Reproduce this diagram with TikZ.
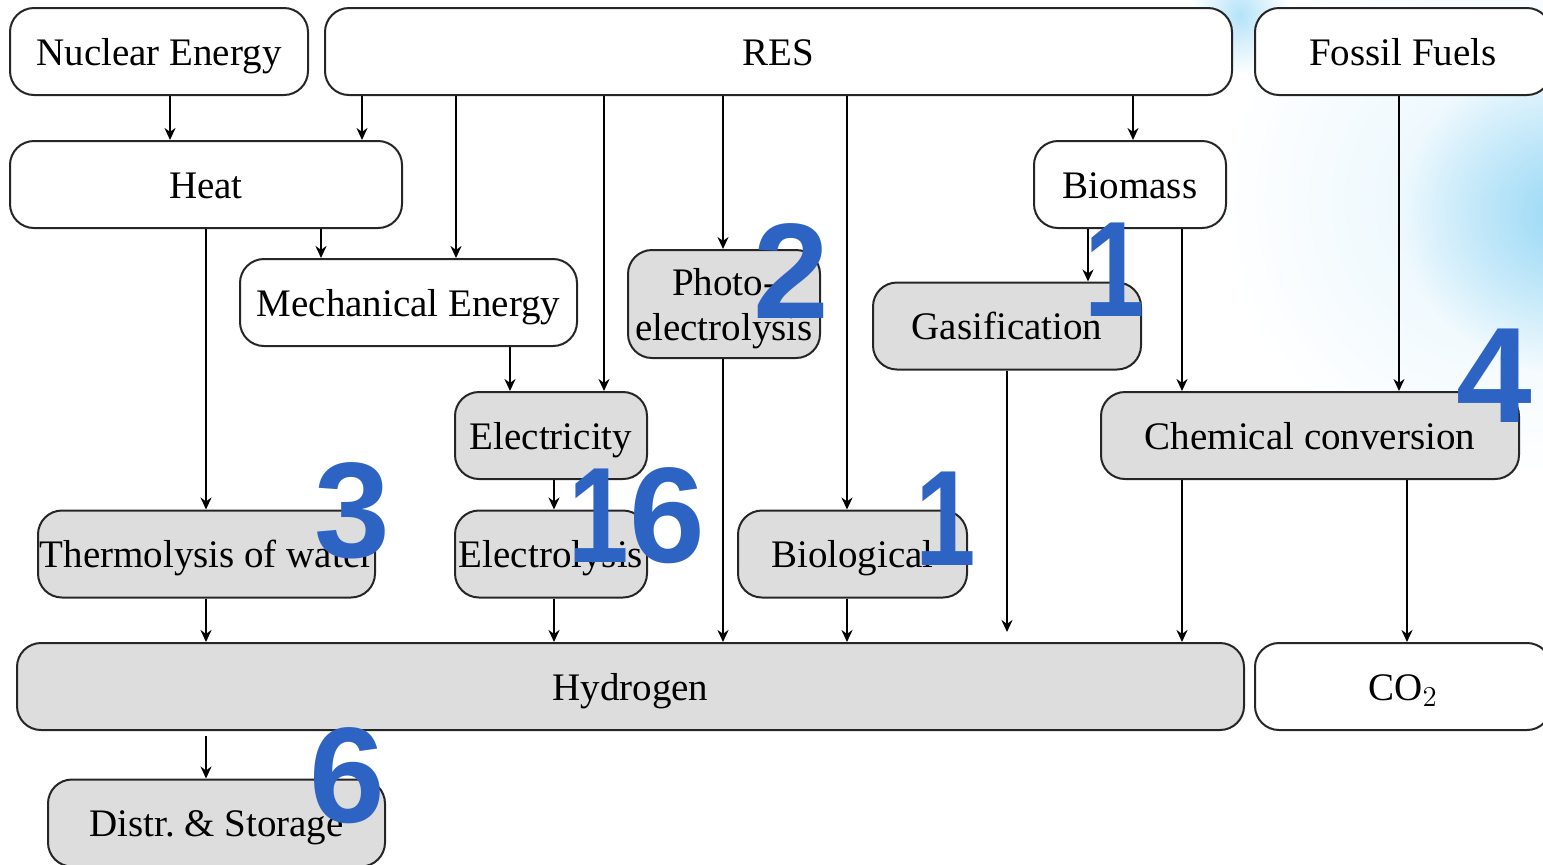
\documentclass[tikz,border=0pt]{standalone}
\usepackage{fontspec}
\usepackage{graphicx}
\setmainfont{Liberation Serif}
\newfontfamily\numfont{Liberation Sans}
\usetikzlibrary{arrows.meta,fadings}
\definecolor{boxgray}{RGB}{221,221,221}
\definecolor{numblue}{RGB}{45,100,195}
\definecolor{swirl}{RGB}{150,215,245}
\tikzfading[name=softfade, inner color=transparent!0, outer color=transparent!100]
\begin{document}
\begin{tikzpicture}[x=0.5pt,y=-0.5pt,
  box/.style={draw=black!85, line width=1pt, rounded corners=12pt, fill=white,
    inner sep=0pt, minimum height=43.5pt, align=center,
    text height=14pt, text depth=0.4pt,
    font=\fontsize{19.5}{22.5}\selectfont},
  grey/.style={box, fill=boxgray},
  arr/.style={-{Stealth[length=6pt,width=5.5pt]}, line width=1pt},
  num/.style={text=numblue, inner sep=0pt,
    font=\numfont\bfseries\fontsize{68}{68}\selectfont}]
\useasboundingbox (0,0) rectangle (1543,864);
\clip (0,0) rectangle (1543,864);
% background swirl
\fill[swirl, opacity=0.25, path fading=softfade] (1500,200) ellipse [x radius=280, y radius=280];
\fill[swirl, path fading=softfade] (1570,215) ellipse [x radius=170, y radius=160];
\fill[swirl, opacity=0.7, path fading=softfade] (1240,15) ellipse [x radius=50, y radius=60];
% nodes
\node[box, minimum width=149pt] (nuc) at (159,51.5) {Nuclear Energy};
\node[box, minimum width=453.5pt] (res) at (778.5,51.5) {RES};
\node[box, minimum width=148pt] (fos) at (1403,51.5) {Fossil Fuels};
\node[box, minimum width=196pt] (heat) at (206,184.5) {Heat};
\node[box, minimum width=96pt] (bms) at (1130,184.5) {Biomass};
\node[box, minimum width=168.5pt] (mech) at (408.5,302.5) {Mechanical Energy};
\node[grey, minimum width=96pt, minimum height=54pt, text height={}, text depth={}] (photo) at (724,304) {\rule{0pt}{17.8pt}Photo-\\electrolysis};
\node[grey, minimum width=134pt] (gas) at (1007,326) {Gasification};
\node[grey, minimum width=96pt] (elec) at (551,435.5) {Electricity};
\node[grey, minimum width=209pt] (chem) at (1310,435.5) {Chemical conversion};
\node[grey, minimum width=168.5pt] (thermo) at (206.5,554) {Thermolysis of water};
\node[grey, minimum width=96pt] (elys) at (551,554) {Electrolysis};
\node[grey, minimum width=114.5pt] (biol) at (852.5,554) {Biological};
\node[grey, minimum width=613.5pt] (hyd) at (630.5,686.5) {Hydrogen};
\node[box, minimum width=148pt] (co2) at (1403,686.5) {CO$_2$};
\node[grey, minimum width=168.5pt] (dist) at (216.5,823) {Distr.\ \& Storage};
% connectors
\draw[arr] (170,0 |- nuc.south) -- (170,0 |- heat.north);
\draw[arr] (362,0 |- res.south) -- (362,0 |- heat.north);
\draw[arr] (456,0 |- res.south) -- (456,0 |- mech.north);
\draw[arr] (604,0 |- res.south) -- (604,0 |- elec.north);
\draw[arr] (723,0 |- res.south) -- (723,0 |- photo.north);
\draw[arr] (847,0 |- res.south) -- (847,0 |- biol.north);
\draw[arr] (1133,0 |- res.south) -- (1133,0 |- bms.north);
\draw[arr] (321,0 |- heat.south) -- (321,0 |- mech.north);
\draw[arr] (206,0 |- heat.south) -- (206,0 |- thermo.north);
\draw[arr] (510,0 |- mech.south) -- (510,0 |- elec.north);
\draw[arr] (723,0 |- photo.south) -- (723,0 |- hyd.north);
\draw[arr] (1088,0 |- bms.south) -- (1088,0 |- gas.north);
\draw[arr] (1182,0 |- bms.south) -- (1182,0 |- chem.north);
\draw[arr] (1399,0 |- fos.south) -- (1399,0 |- chem.north);
\draw[arr, shorten >=5pt] (1007,0 |- gas.south) -- (1007,0 |- hyd.north);
\draw[arr] (554,0 |- elec.south) -- (554,0 |- elys.north);
\draw[arr] (206,0 |- thermo.south) -- (206,0 |- hyd.north);
\draw[arr] (554,0 |- elys.south) -- (554,0 |- hyd.north);
\draw[arr] (847,0 |- biol.south) -- (847,0 |- hyd.north);
\draw[arr] (1182,0 |- chem.south) -- (1182,0 |- hyd.north);
\draw[arr] (1407,0 |- chem.south) -- (1407,0 |- co2.north);
\draw[arr, shorten <=2.5pt] (206,0 |- hyd.south) -- (206,0 |- dist.north);
% numbers
\node[num] (n1a) at (1115,270) {\scalebox{0.8}[1]{1}};
\node[num] (n2) at (791,271) {2};
\node[num] (n3) at (352,511) {3};
\node[num] (n16) at (637,516) {\scalebox{0.8}[1]{1}6};
\node[num] (n1b) at (946,519) {\scalebox{0.8}[1]{1}};
\node[num] (n4) at (1494,376) {4};
\node[num] (n6) at (347,776) {6};
\end{tikzpicture}
\end{document}
